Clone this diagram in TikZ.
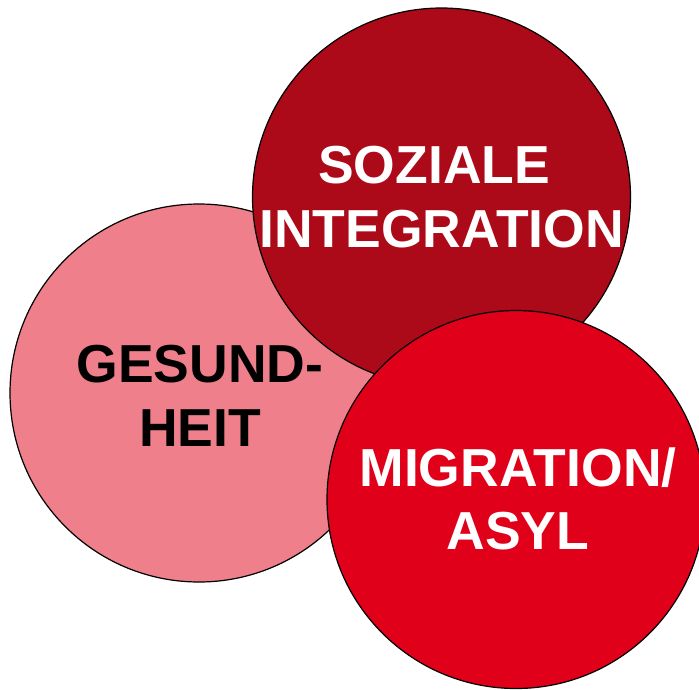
\documentclass[tikz,border=0pt]{standalone}
\usepackage{fontspec}
\setmainfont{Liberation Sans}
\definecolor{cpink}{HTML}{EF7F8B}
\definecolor{cdark}{HTML}{AD0A19}
\definecolor{cred}{HTML}{E1001A}
\begin{document}
\begin{tikzpicture}[x=1pt,y=-1pt,
  bubble/.style={circle,draw=black,line width=1.2pt,minimum size=378pt,inner sep=0pt},
  lbl/.style={align=center,inner sep=0pt,font={\fontsize{53.5}{63.5}\selectfont\bfseries}}]
\useasboundingbox (0,0) rectangle (699,689);
\begin{scope}
\clip (0,0) rectangle (699,689);
\node[bubble,fill=cpink] (ges) at (199,393) {};
\node[bubble,fill=cdark] (soz) at (441.5,197) {};
\node[bubble,fill=cred] (mig) at (516,499.5) {};
\end{scope}
\node[lbl,text=black] (tges) at (200,396) {GESUND-\\HEIT};
\node[lbl,text=white] (tsoz) at (441.5,197) {SOZIALE\hphantom{I}\\INTEGRATION};
\node[lbl,text=white] (tmig) at (518,499) {MIGRATION/\\ASYL};
\end{tikzpicture}
\end{document}
